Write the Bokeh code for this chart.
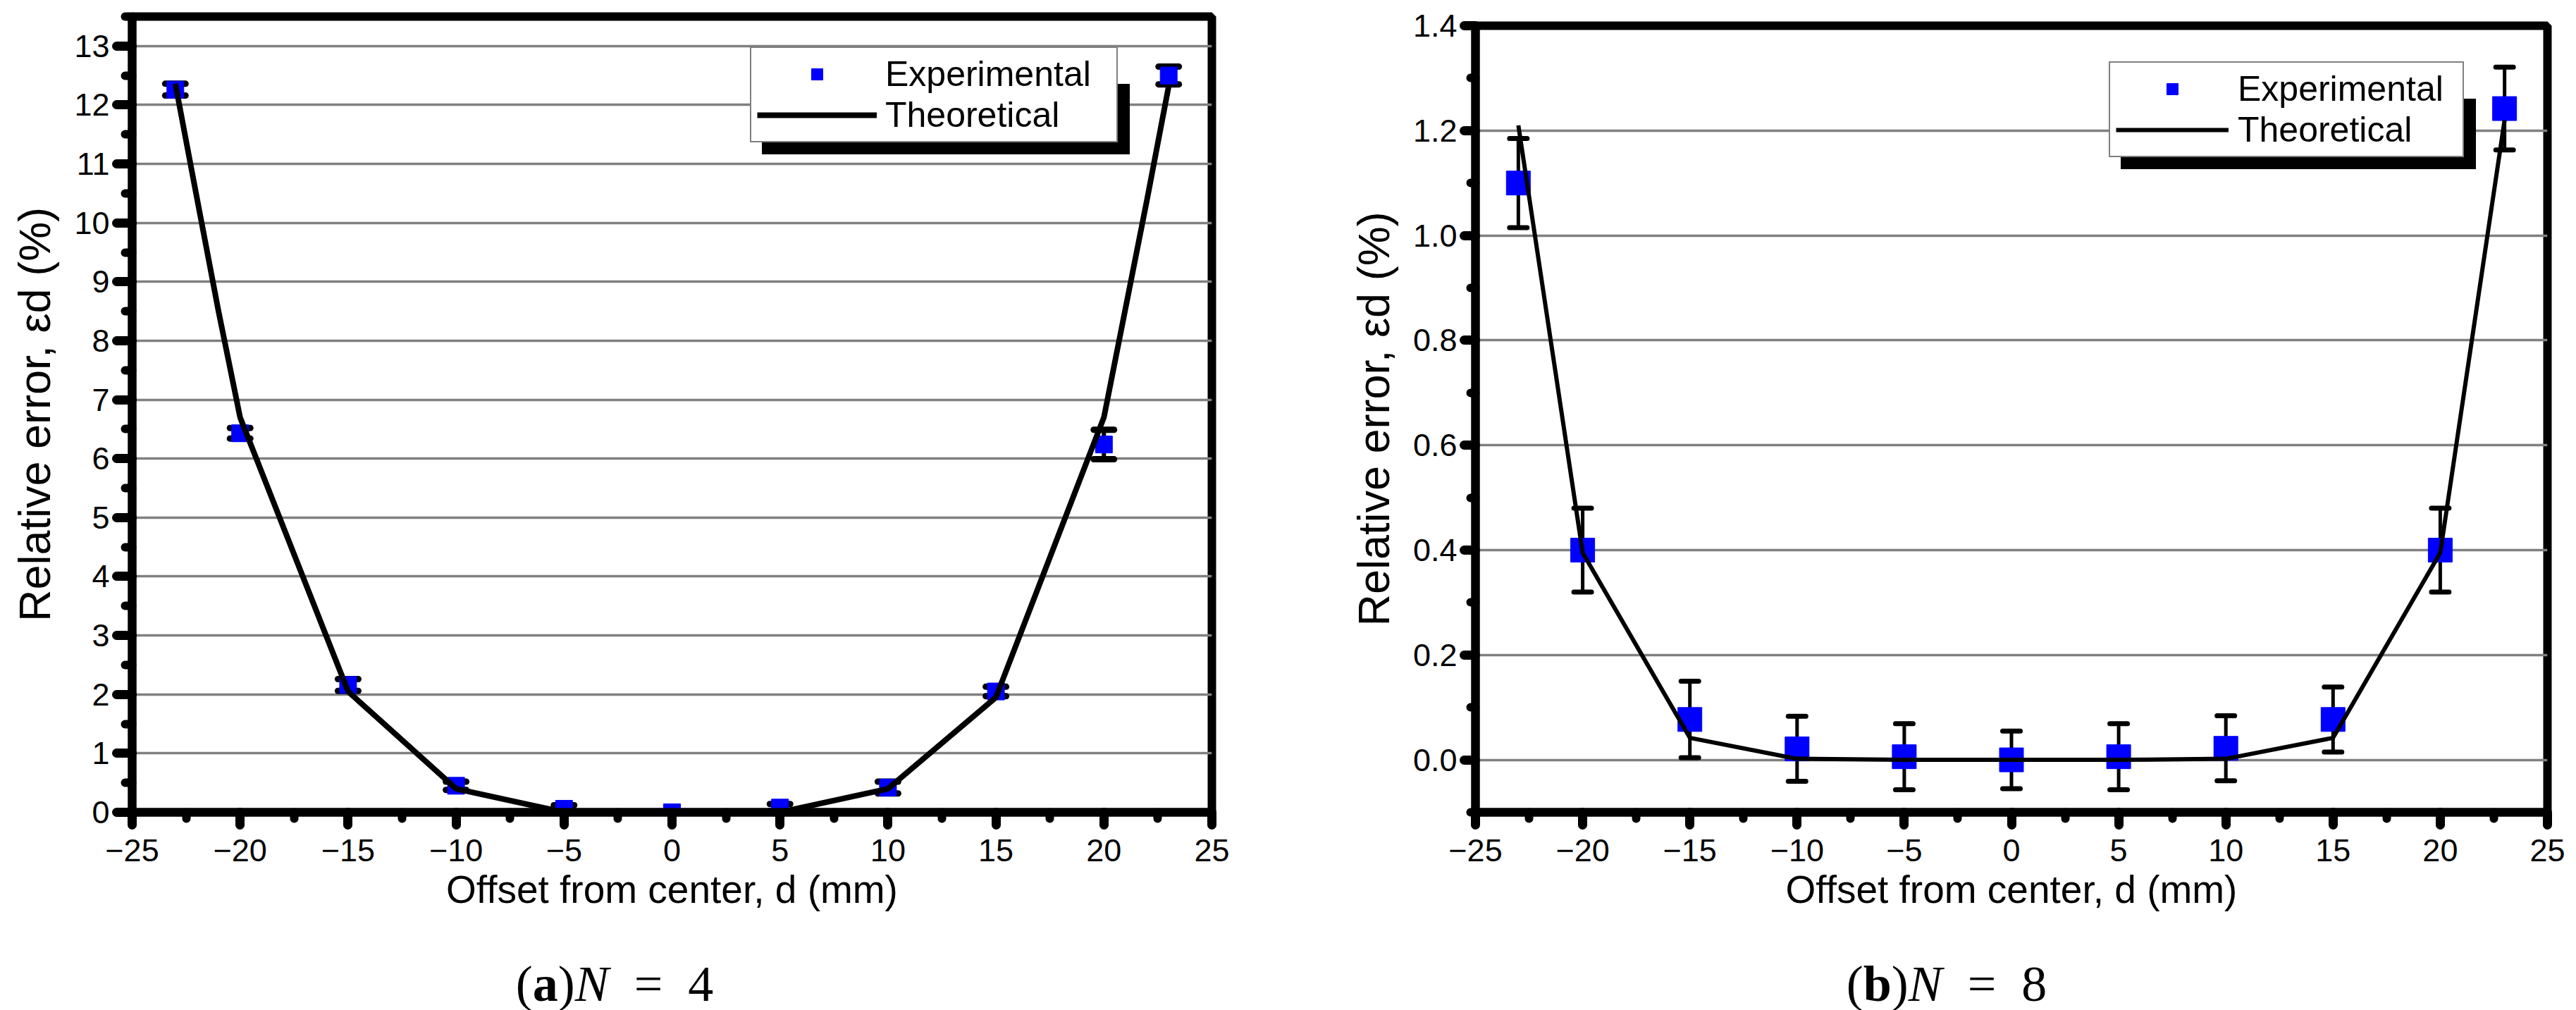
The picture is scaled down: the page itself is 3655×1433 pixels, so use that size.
from bokeh.plotting import figure
from bokeh.models import (Range1d, FixedTicker, Legend, LegendItem, Whisker,
                          TeeHead, ColumnDataSource, PrintfTickFormatter, Div)
from bokeh.layouts import row, column
from bokeh.embed import file_html
from bokeh.resources import INLINE

# ---------------- data ----------------
offset_mm = [-23, -20, -15, -10, -5, 0, 5, 10, 15, 20, 23]

# (a) N = 4
exp_n4 = [12.26, 6.43, 2.16, 0.45, 0.06, 0.0, 0.08, 0.42, 2.05, 6.24, 12.50]
err_n4 = [0.10, 0.09, 0.10, 0.07, 0.06, 0.0, 0.06, 0.10, 0.08, 0.25, 0.15]
theory_x_n4 = [-23, -22, -21, -20, -15, -10, -5, 0, 5, 10, 15, 20, 21, 22, 23]
theory_n4 = [12.36, 10.42, 8.50, 6.70, 2.05, 0.40, 0.0, 0.0, 0.0, 0.40, 1.95, 6.70, 8.55, 10.40, 12.32]

# (b) N = 8
exp_n8 = [1.10, 0.40, 0.077, 0.021, 0.006, 0.0, 0.006, 0.022, 0.077, 0.40, 1.242]
err_n8 = [0.085, 0.08, 0.073, 0.062, 0.063, 0.055, 0.063, 0.062, 0.062, 0.08, 0.079]
theory_x_n8 = [-23, -20, -15, -10, -5, 0, 5, 10, 15, 20, 23]
theory_n8 = [1.21, 0.395, 0.042, 0.002, 0.0, 0.0, 0.0, 0.002, 0.042, 0.395, 1.22]

# ticks
x_ticks = [-25, -20, -15, -10, -5, 0, 5, 10, 15, 20, 25]
x_minor = [-22.5, -17.5, -12.5, -7.5, -2.5, 2.5, 7.5, 12.5, 17.5, 22.5]
y_ticks_n4 = [0, 1, 2, 3, 4, 5, 6, 7, 8, 9, 10, 11, 12, 13]
y_minor_n4 = [0.5, 1.5, 2.5, 3.5, 4.5, 5.5, 6.5, 7.5, 8.5, 9.5, 10.5, 11.5, 12.5, 13.5]
y_ticks_n8 = [0.0, 0.2, 0.4, 0.6, 0.8, 1.0, 1.2, 1.4]
y_minor_n8 = [-0.1, 0.1, 0.3, 0.5, 0.7, 0.9, 1.1, 1.3]

x_label = "Offset from center, d (mm)"
y_label = "Relative error, \u03b5d (%)"
legend_labels = ["Experimental", "Theoretical"]
captions = ["(<b>a</b>)<i>N</i>&ensp;=&ensp;4", "(<b>b</b>)<i>N</i>&ensp;=&ensp;8"]

SANS = "Liberation Sans"


def make_panel(exp, err, tx, ty, y_start, y_end, y_ticks, y_minor, y_fmt,
               marker_size, line_w, whisk_w, cap_size, cap_w,
               frame_w, frame_h, mb_left, mb_right, mb_top,
               ytick_out, ytick_minor_out, legend_xy, glyph_w, standoff, label_width):
    p = figure(frame_width=frame_w, frame_height=frame_h,
               x_range=Range1d(-25, 25), y_range=Range1d(y_start, y_end),
               output_backend="svg", toolbar_location=None,
               min_border_left=mb_left, min_border_right=mb_right,
               min_border_top=mb_top, min_border_bottom=160,
               background_fill_color="white", border_fill_color="white",
               outline_line_color="black", outline_line_width=12)
    p.xgrid.visible = False
    p.ygrid.grid_line_color = "#808080"
    p.ygrid.grid_line_width = 3.5

    p.xaxis.ticker = FixedTicker(ticks=x_ticks, minor_ticks=x_minor)
    p.yaxis.ticker = FixedTicker(ticks=y_ticks, minor_ticks=y_minor)
    if y_fmt:
        p.yaxis.formatter = PrintfTickFormatter(format=y_fmt)

    for ax in p.axis:
        ax.axis_line_width = 12
        ax.axis_line_color = "black"
        ax.major_tick_line_width = 13
        ax.minor_tick_line_width = 12
        ax.major_tick_line_cap = "round"
        ax.minor_tick_line_cap = "round"
        ax.major_tick_line_color = "black"
        ax.minor_tick_line_color = "black"
        ax.major_tick_in = 0
        ax.minor_tick_in = 0
        ax.major_label_text_font = SANS
        ax.major_label_text_font_size = "45px"
        ax.major_label_text_color = "black"
        ax.axis_label_text_font = SANS
        ax.axis_label_text_font_style = "normal"
        ax.axis_label_text_color = "black"

    p.xaxis.axis_label = x_label
    p.xaxis.major_tick_out = 18
    p.xaxis.minor_tick_out = 9
    p.xaxis.major_label_standoff = 20
    p.xaxis.axis_label_standoff = 6
    p.xaxis.axis_label_text_font_size = "55px"

    p.yaxis.axis_label = y_label
    p.yaxis.major_tick_out = ytick_out
    p.yaxis.minor_tick_out = ytick_minor_out
    p.yaxis.major_label_standoff = 10
    p.yaxis.axis_label_standoff = 18
    p.yaxis.axis_label_text_font_size = "63px"

    upper = [v + e for v, e in zip(exp, err)]
    lower = [v - e for v, e in zip(exp, err)]
    src = ColumnDataSource(dict(x=offset_mm, y=exp, upper=upper, lower=lower))

    wh = Whisker(base="x", upper="upper", lower="lower", source=src,
                 line_width=whisk_w, line_color="black",
                 upper_head=TeeHead(size=cap_size, line_width=cap_w, line_color="black", line_cap="round"),
                 lower_head=TeeHead(size=cap_size, line_width=cap_w, line_color="black", line_cap="round"))
    p.add_layout(wh)

    sc = p.scatter("x", "y", source=src, marker="square", size=marker_size,
                   fill_color="#0000FF", line_color="#0000FF")
    ln = p.line(tx, ty, line_color="black", line_width=line_w, line_join="round")

    lx, ly = legend_xy
    common = dict(label_text_font=SANS, label_text_font_size="50px",
                  padding=8, spacing=0, glyph_width=glyph_w, glyph_height=40,
                  label_standoff=standoff, label_width=label_width,
                  border_line_width=2)
    # drop shadow: same-sized legend with blank labels, offset down-right
    shadow = Legend(items=[LegendItem(label=" ", renderers=[sc]),
                           LegendItem(label=" ", renderers=[ln])],
                    location=(lx + 17, ly - 17),
                    background_fill_color="black", background_fill_alpha=1.0,
                    border_line_color="black", label_text_color="black", **common)
    front = Legend(items=[LegendItem(label=legend_labels[0], renderers=[sc]),
                          LegendItem(label=legend_labels[1], renderers=[ln])],
                   location=(lx, ly),
                   background_fill_color="white", background_fill_alpha=1.0,
                   border_line_color="black", label_text_color="black", **common)
    p.add_layout(shadow, "center")
    p.add_layout(front, "center")
    return p


pa = make_panel(exp_n4, err_n4, theory_x_n4, theory_n4, 0, 13.5, y_ticks_n4, y_minor_n4, None,
                24, 8, 6, 29, 9,
                1532, 1129, 187, 121, 23, 22, 10, (877, 950), 170, 12, 320)
pb = make_panel(exp_n8, err_n8, theory_x_n8, theory_n8, -0.1, 1.4, y_ticks_n8, y_minor_n8, "%.1f",
                34, 6, 5, 25, 7,
                1521, 1116, 253, 41, 36, 16, 7, (899, 929), 160, 13, 311)


def caption_div(text, width, center):
    inner_w = 700
    html = ('<div style="font-family:\'Liberation Serif\', serif;font-size:72px;'
            'line-height:72px;color:black;text-align:center;white-space:nowrap;'
            'width:%dpx;margin-left:%dpx;padding-top:48px;">%s</div>'
            % (inner_w, center - inner_w // 2, text))
    return Div(text=html, width=width, height=120, margin=0)


cap_a = caption_div(captions[0], 1840, 872)
cap_b = caption_div(captions[1], 1815, 2762 - 1840)

layout = row(column(pa, cap_a), column(pb, cap_b))
open("out.html", "w").write(file_html(layout, INLINE))
